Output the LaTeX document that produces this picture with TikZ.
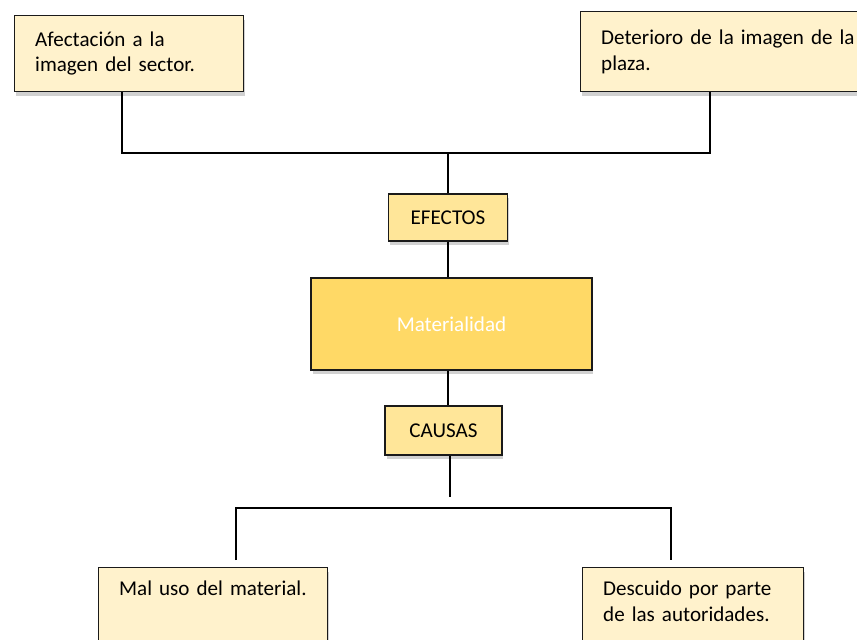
\documentclass[tikz,border=0pt]{standalone}
\usepackage{fontspec}
\setmainfont{Carlito}
\usetikzlibrary{shadows}
\definecolor{goldPale}{HTML}{FFF2CC}
\definecolor{goldLight}{HTML}{FFE699}
\definecolor{goldMid}{HTML}{FFD966}
\definecolor{edge}{HTML}{1A1A1A}

\begin{document}
\begin{tikzpicture}[x=0.02cm,y=-0.02cm,every node/.style={font=\fontsize{12}{14.5}\selectfont},
  card/.style={rectangle,draw=edge,line width=0.8pt,fill=goldPale,align=left,inner xsep=0.41cm,
    drop shadow={shadow xshift=0.03cm,shadow yshift=-0.08cm,fill=black,opacity=0.18}},
  tag/.style={card,fill=goldLight,align=center,inner xsep=2pt},
  conn/.style={draw=black,line width=1.1pt}]
  \useasboundingbox (0,0) rectangle (857,639);
  % efectos
  \node[card,anchor=north west,text width=3.76cm,minimum height=1.52cm] (tl) at (14,15) {Afectación a la\\imagen del sector.};
  \node[card,anchor=north west,text width=5.1cm,minimum height=1.6cm] (tr) at (580,11) {Deterioro de la imagen de la\\plaza.};
  \node[tag,minimum width=2.38cm,minimum height=0.94cm] (ef) at (448,217.5) {EFECTOS};
  % problema central
  \node[tag,fill=goldMid,text=white,minimum width=5.62cm,minimum height=1.84cm] (mat) at (451.5,324) {Materialidad};
  % causas
  \node[tag,minimum width=2.34cm,minimum height=0.98cm] (ca) at (443.5,430.5) {CAUSAS};
  \node[card,anchor=north west,text width=3.76cm,inner ysep=7.5pt,text depth=2cm] (bl) at (98,567) {Mal uso del material.};
  \node[card,anchor=north west,text width=3.6cm,inner ysep=7.5pt,text depth=2cm] (br) at (582,567) {Descuido por parte\\de las autoridades.};
  % ramas
  \coordinate (tldrop) at (122,92);
  \coordinate (tlbar) at (122,153);
  \coordinate (trbar) at (710,153);
  \coordinate (trdrop) at (710,92);
  \coordinate (cadrop) at (450,497);
  \coordinate (blbar) at (236,508);
  \coordinate (brbar) at (671,508);
  \coordinate (blup) at (236,560);
  \coordinate (brup) at (671,560);
  \draw[conn] (tldrop) -- (tlbar) -- (trbar) -- (trdrop);
  \draw[conn] (ef.north) -- (ef.north |- tlbar);
  \draw[conn] (ef.south) -- (ef.south |- mat.north);
  \draw[conn] (mat.south -| ef.south) -- (ef.south |- ca.north);
  \draw[conn] (ca.south -| cadrop) -- (cadrop);
  \draw[conn] (blup) -- (blbar) -- (brbar) -- (brup);
\end{tikzpicture}
\end{document}
